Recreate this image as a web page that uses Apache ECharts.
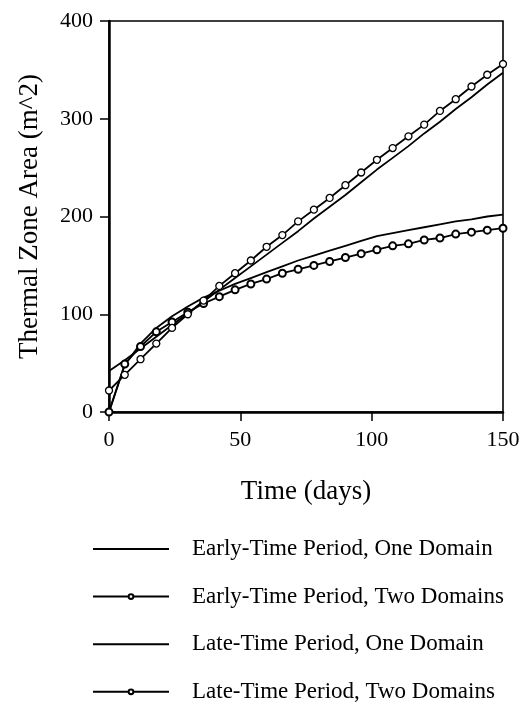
<!DOCTYPE html>
<html>
<head>
<meta charset="utf-8">
<script src="https://cdn.jsdelivr.net/npm/echarts@6/dist/echarts.min.js"></script>
<style>
html,body{margin:0;padding:0;background:#fff;}
#c{width:527px;height:702px;}
</style>
</head>
<body>
<div id="c"></div>
<script>
const days = [0,6,12,18,24,30,36,42,48,54,60,66,72,78,84,90,96,102,108,114,120,126,132,138,144,150];
const earlyOne = [0,48,70,86,98,108,117,124,131,137,143,149,155,160,165,170,175,180,183,186,189,192,195,197,200,202];
const earlyTwo = [0,49,67,82,92,102,111,118,125,131,136,142,146,150,154,158,162,166,170,172,176,178,182,184,186,188];
const lateOne = [42,53,65,77,89,101,113,125,137,149,161,173,185,198,210,222,235,248,260,272,285,297,310,322,335,347];
const lateTwo = [22,38,54,70,86,100,114,129,142,155,169,181,195,207,219,232,245,258,270,282,294,308,320,333,345,356];
const seriesNames = ['Early-Time Period, One Domain','Early-Time Period, Two Domains','Late-Time Period, One Domain','Late-Time Period, Two Domains'];
const hasMarkers = [false, true, false, true];
const xTicks = [0,50,100,150];
const yTicks = [0,100,200,300,400];

const FONT = 'Liberation Serif';
function pairs(ys){ return days.map((d,i)=>[d, ys[i]]); }

const chart = echarts.init(document.getElementById('c'), null, {renderer:'canvas'});
const plainLine = {color:'#000', width:1.8};
const hiddenSym = {color:'rgba(0,0,0,0)', borderColor:'rgba(0,0,0,0)', borderWidth:0};

const legends = seriesNames.map((name, i) => ({
  orient:'vertical', left:92, top:537.5 + i*47.6, padding:0,
  itemWidth:76, itemHeight:6,
  data:[hasMarkers[i] ? {name:name} : {name:name, itemStyle:hiddenSym}],
  textStyle:{fontFamily:FONT, fontSize:23, color:'#000', padding:[0,0,0,18]}
}));

const option = {
  animation:false,
  backgroundColor:'#fff',
  grid:{left:109, top:21, width:394, height:391, show:true, borderColor:'#000', borderWidth:1.6, backgroundColor:'transparent'},
  xAxis:{
    type:'value', min:xTicks[0], max:xTicks[xTicks.length-1], interval:50,
    name:'Time (days)', nameLocation:'middle', nameGap:66,
    nameTextStyle:{fontFamily:FONT, fontSize:27, color:'#000'},
    axisLine:{show:true, lineStyle:{color:'#000', width:2.5}},
    axisTick:{show:true, inside:false, length:9, lineStyle:{color:'#000', width:1.5}},
    axisLabel:{fontFamily:FONT, fontSize:22, color:'#000', margin:17},
    splitLine:{show:false}
  },
  yAxis:{
    type:'value', min:yTicks[0], max:yTicks[yTicks.length-1], interval:100,
    name:'Thermal Zone Area (m^2)', nameLocation:'middle', nameGap:66, nameRotate:90,
    nameTextStyle:{fontFamily:FONT, fontSize:27, color:'#000'},
    axisLine:{show:true, lineStyle:{color:'#000', width:2.5}},
    axisTick:{show:true, inside:false, length:9, lineStyle:{color:'#000', width:1.5}},
    axisLabel:{fontFamily:FONT, fontSize:22, color:'#000', margin:16},
    splitLine:{show:false}
  },
  legend: legends,
  series:[
    {name:seriesNames[0], type:'line', data:pairs(earlyOne), symbol:'none', lineStyle:plainLine, itemStyle:{color:'#000'}},
    {name:seriesNames[1], type:'line', data:pairs(earlyTwo), symbol:'circle', symbolSize:7, showSymbol:true,
     lineStyle:plainLine, itemStyle:{color:'#fff', borderColor:'#000', borderWidth:2}},
    {name:seriesNames[2], type:'line', data:pairs(lateOne), symbol:'none', lineStyle:plainLine, itemStyle:{color:'#000'}},
    {name:seriesNames[3], type:'line', data:pairs(lateTwo), symbol:'circle', symbolSize:7, showSymbol:true,
     lineStyle:plainLine, itemStyle:{color:'#fff', borderColor:'#000', borderWidth:1.3}}
  ]
};
chart.setOption(option);
</script>
</body>
</html>
